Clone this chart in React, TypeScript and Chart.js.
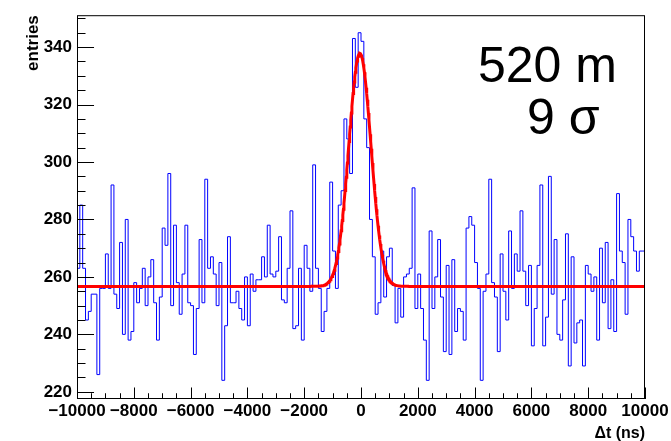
import React, { useEffect, useRef } from 'react';
import { Chart, registerables } from 'chart.js';

Chart.register(...registerables);

// ---- histogram definition (100 ns bins from -10000 to 10000 ns) ----
const BIN_MIN = -10000;
const BIN_WIDTH = 100;
const COUNTS = [
  262, 263, 285, 263, 245, 248, 254, 254, 226, 256,
  256, 268, 256, 292, 254, 249, 272, 240, 280, 238,
  241, 258, 251, 256, 263, 250, 260, 266, 251, 238,
  253, 277, 271, 296, 250, 278, 258, 247, 261, 278,
  251, 250, 233, 249, 273, 251, 294, 263, 267, 261,
  250, 265, 224, 243, 274, 251, 251, 255, 249, 245,
  260, 243, 261, 255, 259, 259, 267, 260, 278, 261,
  260, 262, 274, 252, 251, 263, 283, 242, 243, 263,
  238, 271, 263, 255, 299, 263, 256, 241, 248, 256,
  293, 269, 256, 285, 290, 315, 308, 296, 343, 326,
  345, 342, 315, 305, 280, 267, 247, 251, 269, 253,
  267, 270, 257, 244, 256, 246, 260, 261, 263, 291,
  249, 261, 249, 238, 224, 276, 249, 260, 273, 253,
  234, 264, 233, 266, 241, 249, 248, 238, 277, 281,
  278, 265, 256, 224, 255, 261, 294, 258, 253, 234,
  268, 255, 245, 276, 256, 268, 262, 283, 262, 250,
  264, 236, 249, 264, 292, 236, 246, 295, 254, 273,
  240, 238, 252, 275, 229, 267, 237, 244, 245, 229,
  264, 261, 255, 260, 238, 270, 251, 272, 242, 259,
  241, 289, 269, 265, 247, 280, 274, 269, 262, 269,
];

// ---- gaussian + constant fit parameters ----
const FIT_CONST = 256.7;
const FIT_AMP = 81.1;
const FIT_MEAN = -40;
const FIT_SIGMA = 390;
const FIT_STEP = 20;

// ---- axes ----
const X_MIN = -10000;
const X_MAX = 10000;
const Y_MIN = 217.5;
const Y_MAX = 351.1;
const X_TICKS = [-10000, -8000, -6000, -4000, -2000, 0, 2000, 4000, 6000, 8000, 10000];
const Y_TICKS = [220, 240, 260, 280, 300, 320, 340];
const X_MINOR_STEP = 500;
const Y_MINOR_STEP = 5;
const X_TITLE = '\u0394t (ns)';
const Y_TITLE = 'entries';
const LABEL_LINES = ['520 m', '9 \u03c3'];

const FONT = '"Liberation Sans", Arial, Helvetica, sans-serif';

function fmt(v: number): string {
  return v < 0 ? '\u2212' + String(Math.abs(v)) : String(v);
}

const decorPlugin = {
  id: 'rootDecor',
  afterDatasetsDraw(chart: any) {
    const { ctx, chartArea: a, scales } = chart;
    const xs = scales.x;
    const ys = scales.y;
    ctx.save();
    ctx.strokeStyle = '#000';
    ctx.lineWidth = 1;
    // frame
    ctx.strokeRect(a.left + 0.5, a.top + 0.5, a.right - a.left - 1, a.bottom - a.top - 1);
    // y ticks
    const yLenMajor = 0.03 * (a.right - a.left);
    ctx.beginPath();
    for (let v = Math.ceil(Y_MIN / Y_MINOR_STEP) * Y_MINOR_STEP; v <= Y_MAX; v += Y_MINOR_STEP) {
      const py = Math.round(ys.getPixelForValue(v)) + 0.5;
      const len = v % 20 === 0 ? yLenMajor : yLenMajor / 2;
      ctx.moveTo(a.left, py);
      ctx.lineTo(a.left + len, py);
    }
    // x ticks
    const xLenMajor = 0.03 * (a.bottom - a.top);
    for (let v = X_MIN; v <= X_MAX; v += X_MINOR_STEP) {
      const px = Math.round(xs.getPixelForValue(v)) + 0.5;
      const len = v % 2000 === 0 ? xLenMajor : xLenMajor / 2;
      ctx.moveTo(px, a.bottom);
      ctx.lineTo(px, a.bottom - len);
    }
    ctx.stroke();

    // axis titles
    ctx.fillStyle = '#000';
    ctx.font = 'bold 16px ' + FONT;
    ctx.textAlign = 'right';
    ctx.textBaseline = 'alphabetic';
    ctx.fillText(X_TITLE, a.right, 438);

    ctx.save();
    ctx.translate(38, a.top);
    ctx.rotate(-Math.PI / 2);
    ctx.font = 'bold 17px ' + FONT;
    ctx.textAlign = 'right';
    ctx.textBaseline = 'alphabetic';
    ctx.fillText(Y_TITLE, 0, 0);
    ctx.restore();

    // annotation
    ctx.font = '50px ' + FONT;
    ctx.textAlign = 'left';
    ctx.textBaseline = 'alphabetic';
    ctx.fillText(LABEL_LINES[0], 478, 82);
    ctx.fillText(LABEL_LINES[1], 527, 134);
    ctx.restore();
  },
};

export default function App() {
  const canvasRef = useRef<HTMLCanvasElement | null>(null);

  useEffect(() => {
    document.body.style.margin = '0';
    const canvas = canvasRef.current;
    if (!canvas) return;

    const histPoints = COUNTS.map((c, i) => ({ x: BIN_MIN + i * BIN_WIDTH, y: c }));
    histPoints.push({ x: BIN_MIN + COUNTS.length * BIN_WIDTH, y: COUNTS[COUNTS.length - 1] });

    const fitPoints: { x: number; y: number }[] = [];
    for (let x = X_MIN; x <= X_MAX; x += FIT_STEP) {
      const z = (x - FIT_MEAN) / FIT_SIGMA;
      fitPoints.push({ x, y: FIT_CONST + FIT_AMP * Math.exp(-0.5 * z * z) });
    }

    const tickFont = { family: FONT, size: 17, weight: 'bold' as const };

    const chart = new Chart(canvas, {
      type: 'line',
      data: {
        datasets: [
          {
            label: 'fit',
            data: fitPoints,
            borderColor: '#ff0000',
            borderWidth: 3,
            pointRadius: 0,
            tension: 0,
            fill: false,
          },
          {
            label: 'histogram',
            data: histPoints,
            borderColor: '#0000ff',
            borderWidth: 1,
            pointRadius: 0,
            stepped: 'after',
            fill: false,
          },
        ],
      },
      options: {
        responsive: false,
        animation: false,
        devicePixelRatio: 1,
        events: [],
        layout: { padding: { left: 0, right: 26, top: 13, bottom: 0 } },
        plugins: {
          legend: { display: false },
          tooltip: { enabled: false },
        },
        scales: {
          x: {
            type: 'linear',
            min: X_MIN,
            max: X_MAX,
            afterBuildTicks: (s: any) => {
              s.ticks = X_TICKS.map((v) => ({ value: v }));
            },
            afterFit: (s: any) => {
              s.height = 42;
            },
            grid: { display: false, drawTicks: false },
            border: { display: false },
            ticks: {
              autoSkip: false,
              maxRotation: 0,
              minRotation: 0,
              padding: 2,
              color: '#000',
              font: tickFont,
              callback: (v: any) => fmt(Number(v)),
            },
          },
          y: {
            type: 'linear',
            min: Y_MIN,
            max: Y_MAX,
            afterBuildTicks: (s: any) => {
              s.ticks = Y_TICKS.map((v) => ({ value: v }));
            },
            afterFit: (s: any) => {
              s.width = 77;
            },
            grid: { display: false, drawTicks: false },
            border: { display: false },
            ticks: {
              padding: 5,
              color: '#000',
              font: tickFont,
              callback: (v: any) => fmt(Number(v)),
            },
          },
        },
      },
      plugins: [decorPlugin],
    });

    return () => chart.destroy();
  }, []);

  return (
    <div style={{ position: 'absolute', left: 0, top: 0, width: 671, height: 441, background: '#fff' }}>
      <canvas ref={canvasRef} width={671} height={441} style={{ display: 'block', width: 671, height: 441 }} />
    </div>
  );
}
